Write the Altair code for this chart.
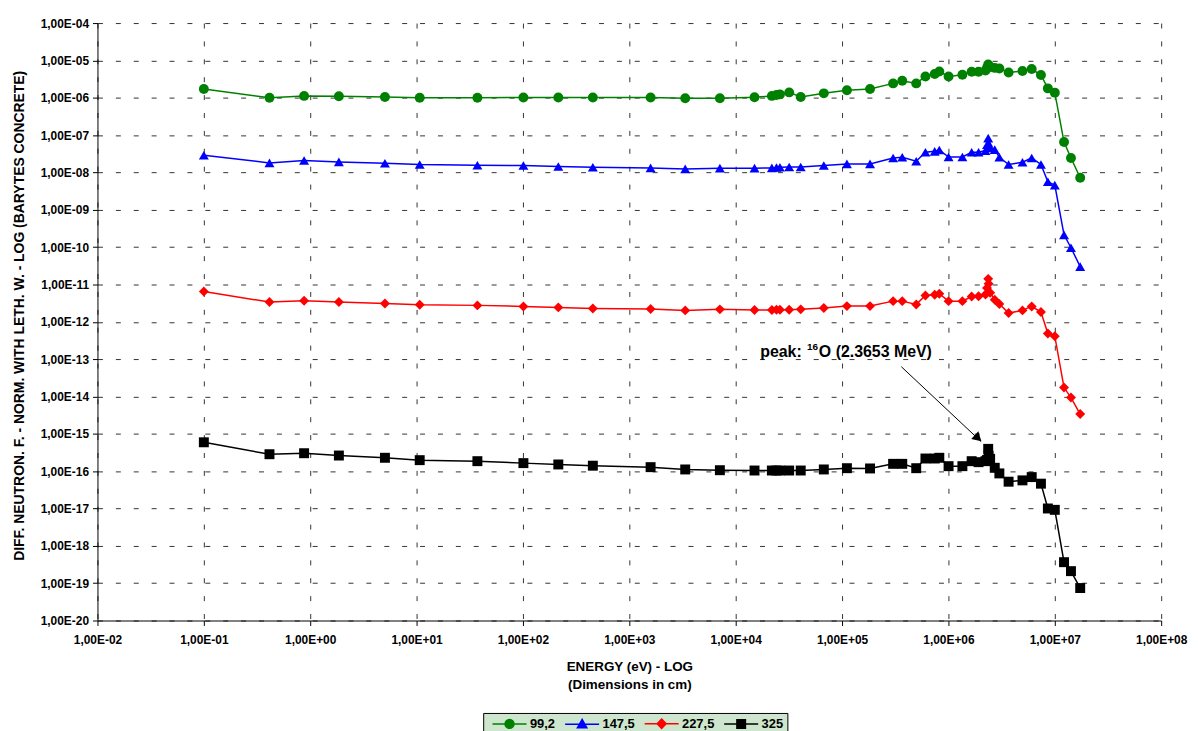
import altair as alt
import pandas as pd

# ---------------- data ----------------
energy_ev = [0.1, 0.414, 0.876, 1.86, 5.04, 10.7, 37.3, 101, 215, 454, 1585,
             3354, 7102, 15030, 21880, 24180, 26060, 31830, 40870, 67380, 111100,
             183200, 302000, 368000, 498000, 608000, 743000, 821000, 1003000,
             1353000, 1653000, 1920000, 2231000, 2307000, 2365000, 2385000,
             2466000, 2725000, 3012000, 3679000, 4966000, 6065000, 7408000,
             8607000, 10000000, 12210000, 14190000, 17330000]

flux_99_2 = [1.72e-6, 1.0e-6, 1.12e-6, 1.09e-6, 1.05e-6, 1.0e-6, 1.0e-6, 1.02e-6,
             1.02e-6, 1.02e-6, 1.02e-6, 9.7e-7, 9.7e-7, 1.03e-6, 1.12e-6, 1.19e-6,
             1.23e-6, 1.39e-6, 1.05e-6, 1.31e-6, 1.58e-6, 1.72e-6, 2.42e-6, 2.86e-6,
             2.42e-6, 3.72e-6, 4.31e-6, 5.05e-6, 3.72e-6, 4.13e-6, 4.96e-6, 4.96e-6,
             5.37e-6, 6.3e-6, 7.76e-6, 7.0e-6, 6.7e-6, 6.3e-6, 6.07e-6, 4.75e-6,
             5.18e-6, 5.85e-6, 4.06e-6, 1.78e-6, 1.37e-6, 6.5e-8, 2.44e-8, 7.2e-9]

flux_147_5 = [2.88e-8, 1.80e-8, 2.08e-8, 1.91e-8, 1.76e-8, 1.63e-8, 1.56e-8, 1.53e-8,
              1.44e-8, 1.38e-8, 1.32e-8, 1.24e-8, 1.30e-8, 1.30e-8, 1.32e-8, 1.36e-8,
              1.38e-8, 1.40e-8, 1.40e-8, 1.53e-8, 1.69e-8, 1.69e-8, 2.44e-8, 2.54e-8,
              1.99e-8, 3.46e-8, 3.67e-8, 3.98e-8, 2.59e-8, 2.59e-8, 3.46e-8, 3.46e-8,
              3.84e-8, 5.5e-8, 8.3e-8, 6.0e-8, 4.5e-8, 4.08e-8, 2.54e-8, 1.63e-8,
              1.87e-8, 2.44e-8, 1.63e-8, 5.6e-9, 4.57e-9, 2.13e-10, 9.6e-11, 3.0e-11]

flux_227_5 = [6.49e-12, 3.37e-12, 3.67e-12, 3.37e-12, 3.10e-12, 2.86e-12, 2.75e-12, 2.58e-12,
              2.43e-12, 2.28e-12, 2.19e-12, 2.02e-12, 2.15e-12, 2.06e-12, 2.06e-12, 2.11e-12,
              2.11e-12, 2.11e-12, 2.15e-12, 2.33e-12, 2.63e-12, 2.63e-12, 3.57e-12, 3.57e-12,
              2.92e-12, 5.07e-12, 5.29e-12, 5.63e-12, 3.57e-12, 3.57e-12, 4.76e-12, 4.85e-12,
              5.40e-12, 8.0e-12, 1.41e-11, 1.04e-11, 6.0e-12, 3.9e-12, 3.0e-12, 1.71e-12,
              2.02e-12, 2.58e-12, 1.82e-12, 4.84e-13, 4.10e-13, 1.73e-14, 9.35e-15, 3.38e-15]

flux_325 = [5.93e-16, 2.84e-16, 3.02e-16, 2.62e-16, 2.28e-16, 1.97e-16, 1.85e-16, 1.64e-16,
            1.51e-16, 1.40e-16, 1.28e-16, 1.11e-16, 1.06e-16, 1.04e-16, 1.04e-16, 1.04e-16,
            1.04e-16, 1.04e-16, 1.04e-16, 1.11e-16, 1.20e-16, 1.18e-16, 1.57e-16, 1.57e-16,
            1.20e-16, 2.18e-16, 2.18e-16, 2.28e-16, 1.36e-16, 1.36e-16, 1.85e-16, 1.74e-16,
            1.85e-16, 2.0e-16, 3.95e-16, 2.6e-16, 2.14e-16, 1.23e-16, 8.7e-17, 5.22e-17,
            5.66e-17, 6.93e-17, 4.62e-17, 1.0e-17, 9.2e-18, 3.65e-19, 2.1e-19, 7.4e-20]

series_names = ["99,2", "147,5", "227,5", "325"]
series_values = [flux_99_2, flux_147_5, flux_227_5, flux_325]
series_colors = ["#008000", "#0000ff", "#ff0000", "#000000"]
series_shapes = ["circle", "triangle-up", "diamond", "square"]
# legend symbols: a short line with the series marker in the middle
legend_paths = [
    "M-3.8,0H3.8M-1,0A1,1,0,1,0,1,0A1,1,0,1,0,-1,0Z",
    "M-3.8,0H3.8M0,-1.05L1.05,0.8L-1.05,0.8Z",
    "M-3.8,0H3.8M0,-1.05L1,0L0,1.05L-1,0Z",
    "M-3.8,0H3.8M-0.95,-0.95H0.95V0.95H-0.95Z",
]

x_ticks = [1e-2, 1e-1, 1e0, 1e1, 1e2, 1e3, 1e4, 1e5, 1e6, 1e7, 1e8]
y_ticks = [10.0 ** e for e in range(-20, -3)]

# annotation: anchor (left end of the text), pieces, and arrow end points
note_x = [1.7e4]
note_y = [1.54e-13]
note_parts = ["peak:", "16", "O (2.3653 MeV)"]
arrow_x = [3.61e5, 2.03e6]
arrow_y = [6.25e-14, 6.18e-16]
head_x = [1.9e6]
head_y = [7.6e-16]

rows = []
for name, vals in zip(series_names, series_values):
    for e, v in zip(energy_ev, vals):
        rows.append({"energy": e, "flux": v, "series": name})
df = pd.DataFrame(rows)

note_df = pd.DataFrame({"x": note_x, "y": note_y, "a": [note_parts[0]],
                        "b": [note_parts[1]], "c": [note_parts[2]]})
arrow_df = pd.DataFrame({"x": arrow_x, "y": arrow_y})
head_df = pd.DataFrame({"x": head_x, "y": head_y})

FONT = "Liberation Sans"
label_expr = ("'1,00E' + (round(log(datum.value)/LN10) < 0 ? '-' : '+') + "
              "(abs(round(log(datum.value)/LN10)) < 10 ? '0' : '') + "
              "abs(round(log(datum.value)/LN10))")

xscale = alt.Scale(type="log", domain=[1e-2, 1e8])
yscale = alt.Scale(type="log", domain=[1e-20, 1e-4])

x_enc = alt.X("energy:Q", scale=xscale,
              axis=alt.Axis(values=x_ticks, labelExpr=label_expr, labelFlush=False,
                            title=["ENERGY (eV) - LOG", "(Dimensions in cm)"],
                            titleFontSize=13.5,
                            labelPadding=9, titlePadding=14, titleLineHeight=18))
y_enc = alt.Y("flux:Q", scale=yscale,
              axis=alt.Axis(values=y_ticks, labelExpr=label_expr, labelFlush=False,
                            title="DIFF. NEUTRON. F. - NORM. WITH LETH. W. - LOG (BARYTES CONCRETE)",
                            titleFontSize=14,
                            labelPadding=4, titleX=-85, titleY=294,
                            titleBaseline="top", titleAlign="center", titleAngle=270))

color_scale = alt.Scale(domain=series_names, range=series_colors)
shape_scale = alt.Scale(domain=series_names, range=series_shapes)
legend_shape_scale = alt.Scale(domain=series_names, range=legend_paths)

leg = alt.Legend(orient="none", legendX=388, legendY=694, direction="horizontal",
                 title=None, padding=4, columnPadding=4, labelFont=FONT,
                 labelFontSize=13, labelFontWeight="bold", labelColor="#000000",
                 fillColor="#cde6cd", strokeColor="#000000",
                 symbolSize=81, symbolOffset=16, labelOffset=14,
                 symbolStrokeWidth=1.5, symbolOpacity=1)

base = alt.Chart(df)

lines = base.mark_line(strokeWidth=1.5).encode(
    x=x_enc, y=y_enc,
    color=alt.Color("series:N", scale=color_scale, legend=None),
)

points = base.mark_point(filled=True, size=100, opacity=1).encode(
    x=x_enc, y=y_enc,
    color=alt.Color("series:N", scale=color_scale, legend=None),
    shape=alt.Shape("series:N", scale=shape_scale, legend=None),
)

legend_layer = base.mark_point(filled=True, opacity=0).encode(
    x=x_enc, y=y_enc,
    color=alt.Color("series:N", scale=color_scale, legend=leg),
    stroke=alt.Stroke("series:N", scale=color_scale, legend=leg),
    shape=alt.Shape("series:N", scale=legend_shape_scale, legend=leg),
)

txt = dict(font=FONT, fontWeight="bold", color="#000000", align="left", baseline="middle")
note_a = alt.Chart(note_df).mark_text(fontSize=16, **txt).encode(
    x=alt.X("x:Q", scale=xscale), y=alt.Y("y:Q", scale=yscale), text="a:N")
note_b = alt.Chart(note_df).mark_text(fontSize=10, dx=47, dy=-5, **txt).encode(
    x=alt.X("x:Q", scale=xscale), y=alt.Y("y:Q", scale=yscale), text="b:N")
note_c = alt.Chart(note_df).mark_text(fontSize=16, dx=59, **txt).encode(
    x=alt.X("x:Q", scale=xscale), y=alt.Y("y:Q", scale=yscale), text="c:N")

arrow = alt.Chart(arrow_df).mark_line(color="#000000", strokeWidth=1).encode(
    x=alt.X("x:Q", scale=xscale), y=alt.Y("y:Q", scale=yscale))

head = alt.Chart(head_df).mark_point(shape="triangle-up", filled=True, size=110, angle=133,
                                     color="#000000", opacity=1).encode(
    x=alt.X("x:Q", scale=xscale), y=alt.Y("y:Q", scale=yscale))

chart = alt.layer(lines, points, legend_layer, arrow, head, note_a, note_b, note_c).resolve_scale(
    color="independent", shape="independent", stroke="independent"
).properties(
    width=1070, height=601,
    autosize=alt.AutoSizeParams(type="none"),
    padding={"left": 90, "top": 13, "right": 29, "bottom": 109},
    background="#ffffff",
).configure_axis(
    domainColor="#000000", domainWidth=1, tickColor="#000000", tickSize=5,
    gridColor="#333333", gridDash=[5, 13], gridWidth=1,
    labelFont=FONT, labelFontSize=12, labelFontWeight="bold", labelColor="#000000",
    titleFont=FONT, titleFontSize=12, titleFontWeight="bold", titleColor="#000000",
).configure_view(stroke=None)

chart.save("out.html", embed_options={"renderer": "svg", "actions": False})
